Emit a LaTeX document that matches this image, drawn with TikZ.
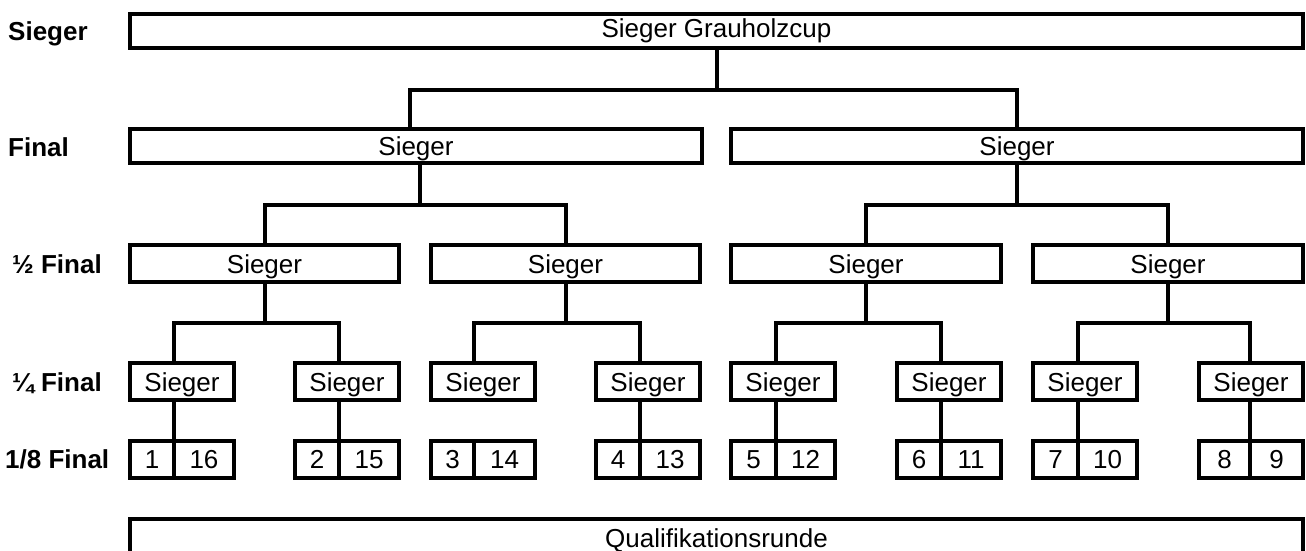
\documentclass[tikz,border=0pt]{standalone}
\usepackage{fontspec}
\setmainfont{Liberation Sans}
\usepackage{tikz}
\usetikzlibrary{positioning}

\begin{document}
\begin{tikzpicture}[x=1pt, y=-1pt, font=\fontsize{26pt}{31pt}\selectfont,
  box/.style={draw, line width=4pt, inner sep=0pt, outer sep=0pt, minimum height=37pt, text height=19pt, text depth=0pt},
  roundlbl/.style={font=\fontsize{26pt}{31pt}\selectfont\bfseries, anchor=west, inner sep=0pt, text height=19pt, text depth=0pt},
  link/.style={line width=4pt}]
\useasboundingbox (0,0) rectangle (1306,551);

\node[roundlbl] (lsieger) at (8,31) {Sieger};
\node[roundlbl] (lfinal) at (8,147) {Final};
\node[roundlbl] (lhalf) at (12,264) {½ Final};
\node[roundlbl] (lquarter) at (12,382) {¼ Final};
\node[roundlbl] (leighth) at (5,459) {1/8 Final};

\node[box, minimum height=34pt, text depth=6pt, minimum width=1173] (top) at (716.5,31) {Sieger Grauholzcup};
\node[box, minimum height=34pt, minimum width=572] (fin1) at (416,146) {Sieger};
\node[box, minimum height=34pt, minimum width=572] (fin2) at (1017,146) {Sieger};

\foreach \c/\w [count=\i] in {264.5/269, 565.5/269, 866/270, 1168/270} {
\node[box, minimum width=\w] (h\i) at (\c,263.5) {Sieger}; }

\foreach \l/\d/\a/\b [count=\i] in {130/174/1/16, 295/339/2/15, 431/474/3/14, 596/640/4/13, 731/776/5/12, 897/941/6/11, 1033/1078/7/10, 1199/1250/8/9} {
\node[box, anchor=west, minimum width=104] (q\i) at (\l,381.5) {Sieger};
\node[box, anchor=west, minimum width={\d-\l}] (s\i) at (\l,459) {\a};
\node[box, anchor=west, minimum width={\l+104-\d}] (t\i) at (\d,459) {\b}; }

\node[box, anchor=north west, minimum width=1173] (qual) at (130,519) {Qualifikationsrunde};

\draw[link] (top.south) -- (top.south |- 0,89.5);
\draw[link] ([xshift=-6pt]fin1.north) |- (top.south |- 0,89.5) -| (fin2.north);

\draw[link] ([xshift=4pt]fin1.south) -- ([xshift=4pt]fin1.south |- 0,205);
\draw[link] (h1.north) |- ([xshift=4pt]fin1.south |- 0,205) -| (h2.north);
\draw[link] (fin2.south) -- (fin2.south |- 0,205);
\draw[link] (h3.north) |- (fin2.south |- 0,205) -| (h4.north);

\foreach \h/\a/\b in {h1/1/2, h2/3/4, h3/5/6, h4/7/8} {
\draw[link] (\h.south) -- (\h.south |- 0,323);
\draw[link] (t\a.north west |- q\a.north) |- (\h.south |- 0,323) -| (t\b.north west |- q\b.north); }

\foreach \i in {1,2,4,5,6,7,8} {
\draw[link] (q\i.south -| t\i.north west) -- (t\i.north west); }
\end{tikzpicture}
\end{document}
